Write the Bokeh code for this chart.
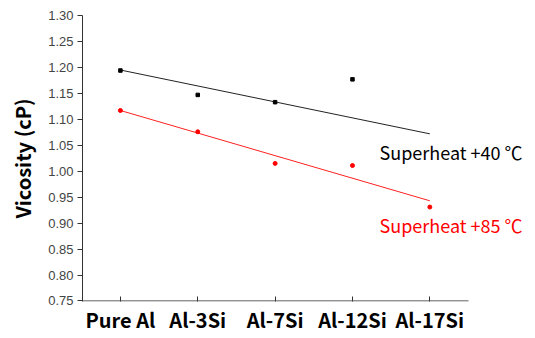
from bokeh.plotting import figure
from bokeh.models import Range1d, Label, FixedTicker, NumeralTickFormatter
from bokeh.embed import file_html
from bokeh.resources import INLINE

alloys = ["Pure Al", "Al-3Si", "Al-7Si", "Al-12Si", "Al-17Si"]
sh40_vals = [1.194, 1.147, 1.133, 1.177]
sh85_vals = [1.117, 1.076, 1.015, 1.011, 0.931]
sh40_fit = [1.195, 1.072]
sh85_fit = [1.117, 0.943]
y_ticks = [0.75, 0.80, 0.85, 0.90, 0.95, 1.00, 1.05, 1.10, 1.15, 1.20, 1.25, 1.30]

xi = list(range(len(alloys)))
x_lo, x_hi = -0.49, 4.5

p = figure(width=535, height=338, output_backend="svg", toolbar_location=None,
           x_range=Range1d(x_lo, 5.366), y_range=Range1d(0.749, 1.30),
           min_border_left=82, min_border_top=15, min_border_right=0, min_border_bottom=37)
p.outline_line_color = None
p.grid.visible = False
p.background_fill_color = "white"

# x axis baseline limited to the plotting extent
p.segment(x0=[x_lo], y0=[0.75], x1=[x_hi], y1=[0.75], line_color="#333333", line_width=1)

p.line([xi[0], xi[-1]], sh40_fit, line_color="#222222", line_width=1)
p.line([xi[0], xi[-1]], sh85_fit, line_color="#ff2020", line_width=1)
p.scatter(xi[:len(sh40_vals)], sh40_vals, marker="square", size=3.5, color="black")
p.scatter(xi, sh85_vals, marker="circle", size=4, color="red")

p.xaxis.ticker = FixedTicker(ticks=xi)
p.xaxis.major_label_overrides = {i: a for i, a in enumerate(alloys)}
p.xaxis.major_label_text_font = "Noto Sans CJK KR"
p.xaxis.major_label_text_font_size = "20px"
p.xaxis.major_label_text_font_style = "bold"
p.xaxis.major_label_text_color = "black"
p.xaxis.major_label_standoff = 3
p.xaxis.major_tick_in = 5
p.xaxis.major_tick_out = 0
p.xaxis.minor_tick_line_color = None
p.xaxis.axis_line_color = None
p.xaxis.major_tick_line_color = "#333333"

p.yaxis.ticker = FixedTicker(ticks=y_ticks)
p.yaxis.formatter = NumeralTickFormatter(format="0.00")
p.yaxis.major_label_text_font = "Liberation Sans"
p.yaxis.major_label_text_font_size = "13px"
p.yaxis.major_label_text_color = "#444444"
p.yaxis.major_tick_in = 0
p.yaxis.major_tick_out = 5
p.yaxis.major_label_standoff = 4
p.yaxis.minor_tick_line_color = None
p.yaxis.axis_line_color = "#333333"
p.yaxis.major_tick_line_color = "#333333"
p.yaxis.axis_label = "Vicosity (cP)"
p.yaxis.axis_label_text_font = "Noto Sans CJK KR"
p.yaxis.axis_label_text_font_size = "20px"
p.yaxis.axis_label_text_font_style = "bold"
p.yaxis.axis_label_text_color = "black"
p.yaxis.axis_label_standoff = 8

p.add_layout(Label(x=3.35, y=1.0365, text="Superheat +40 \u2103", text_color="black",
                   text_font="Noto Sans CJK KR", text_font_size="18px", text_baseline="middle"))
p.add_layout(Label(x=3.35, y=0.896, text="Superheat +85 \u2103", text_color="red",
                   text_font="Noto Sans CJK KR", text_font_size="18px", text_baseline="middle"))

open("out.html", "w").write(file_html(p, INLINE))
